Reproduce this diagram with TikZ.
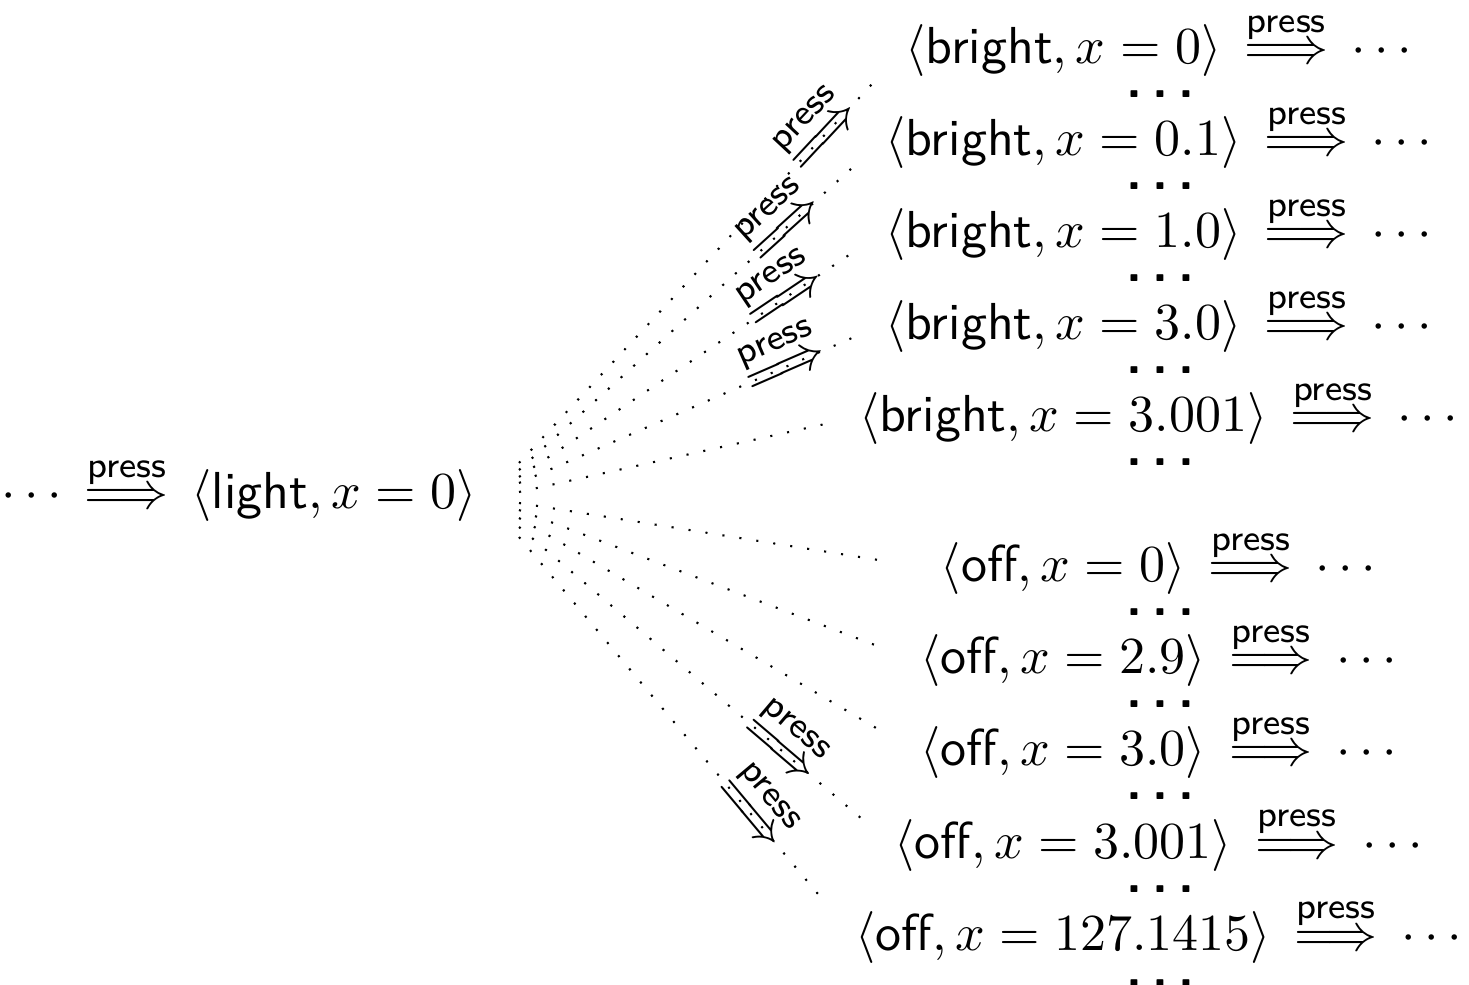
\documentclass[tikz,border=0pt]{standalone}
\usepackage{mathtools}
\usetikzlibrary{positioning}

\tikzset{
  fan/.style={line width=0.4pt, dash pattern=on 0.4pt off 2.9pt},
  state/.style={anchor=base, inner sep=0pt},
  more/.style={anchor=base west, inner sep=0pt, font=\sffamily\bfseries},
  press arrow/.style={sloped, anchor=base, inner sep=0pt}
}
\newcommand{\pressto}{\mathrel{\mskip3mu\stackrel{\textsf{press}}{\Longrightarrow}\mskip3mu}}
\newcommand{\staterow}[2]{$\langle\textsf{#1}, x = #2\rangle \pressto \cdots$}
\newcommand{\pressarrow}{\raisebox{-2.5pt}{$\stackrel{\textsf{press}}{\Longrightarrow}$}}
\newcommand{\moredots}{.\hspace{2pt}.\hspace{2pt}.}

\begin{document}
\begin{tikzpicture}[x=0.1923pt, y=-0.1923pt]
	\useasboundingbox (0,0) rectangle (1469,985);
	% where we are now
	\node[state, anchor=base west] (light) at (0,509) {$\cdots \pressto \langle\textsf{light}, x = 0\rangle$};
	% bright states
	\node[state] (b0) at (1163,64) {\staterow{bright}{0}};
	\node[state] (b1) at (1163,156) {\staterow{bright}{0.1}};
	\node[state] (b2) at (1163,248) {\staterow{bright}{1.0}};
	\node[state] (b3) at (1163,340) {\staterow{bright}{3.0}};
	\node[state] (b4) at (1163,432) {\staterow{bright}{3.001}};
	% off states
	\node[state] (o0) at (1163,582) {\staterow{off}{0}};
	\node[state] (o1) at (1163,674) {\staterow{off}{2.9}};
	\node[state] (o2) at (1163,766) {\staterow{off}{3.0}};
	\node[state] (o3) at (1163,858) {\staterow{off}{3.001}};
	\node[state] (o4) at (1163,950) {\staterow{off}{127.1415}};
	% dots in between
	\node[more] (b0d) at (1125,98) {\moredots};
	\node[more] (b1d) at (1125,190) {\moredots};
	\node[more] (b2d) at (1125,282) {\moredots};
	\node[more] (b3d) at (1125,374) {\moredots};
	\node[more] (b4d) at (1125,466) {\moredots};
	\node[more] (o0d) at (1125,616) {\moredots};
	\node[more] (o1d) at (1125,708) {\moredots};
	\node[more] (o2d) at (1125,800) {\moredots};
	\node[more] (o3d) at (1125,892) {\moredots};
	\node[more] (o4d) at (1125,986) {\moredots};
	% fan of successors
	\coordinate (s0) at (519,463); \coordinate (t0) at (873,83);
	\coordinate (s1) at (519,470); \coordinate (t1) at (852,168);
	\coordinate (s2) at (519,477); \coordinate (t2) at (852,253);
	\coordinate (s3) at (519,483); \coordinate (t3) at (852,338);
	\coordinate (s4) at (519,492); \coordinate (t4) at (825,424);
	\coordinate (s5) at (519,503); \coordinate (t5) at (891,562);
	\coordinate (s6) at (519,510); \coordinate (t6) at (888,650);
	\coordinate (s7) at (519,518); \coordinate (t7) at (888,735);
	\coordinate (s8) at (519,527); \coordinate (t8) at (862,819);
	\coordinate (s9) at (519,537); \coordinate (t9) at (823,900);
	\draw[fan] (s0) -- node[press arrow, pos=0.86] {\pressarrow} (t0);
	\draw[fan] (s1) -- node[press arrow, pos=0.80] {\pressarrow} (t1);
	\draw[fan] (s2) -- node[press arrow, pos=0.80] {\pressarrow} (t2);
	\draw[fan] (s3) -- node[press arrow, pos=0.80] {\pressarrow} (t3);
	\draw[fan] (s4) -- (t4);
	\draw[fan] (s5) -- (t5);
	\draw[fan] (s6) -- (t6);
	\draw[fan] (s7) -- (t7);
	\draw[fan] (s8) -- node[press arrow, pos=0.76] {\pressarrow} (t8);
	\draw[fan] (s9) -- node[press arrow, pos=0.76] {\pressarrow} (t9);
\end{tikzpicture}
\end{document}
